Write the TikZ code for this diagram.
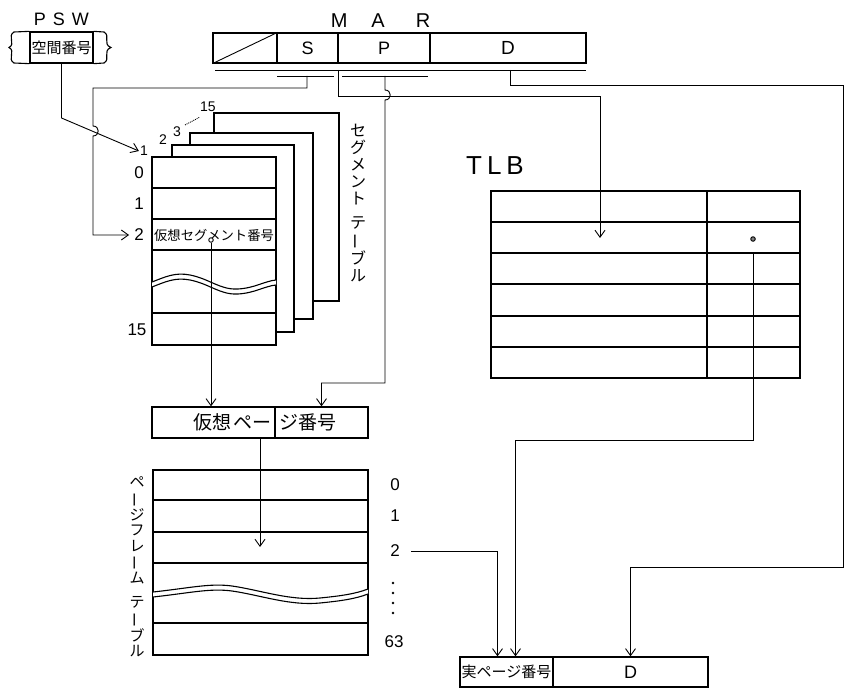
\documentclass[tikz,border=0pt]{standalone}
\usepackage{fontspec}
\setmainfont{Liberation Sans}
\newfontfamily\jpfont{Noto Sans CJK JP}
\usetikzlibrary{arrows.meta}
\newcommand{\tatebou}{\rotatebox[origin=c]{90}{ー}}

\begin{document}
\begin{tikzpicture}[x=1pt, y=-1pt,
  reg/.style={draw, line width=1.3pt, minimum height=30pt, inner sep=0pt},
  tbl/.style={line width=1.1pt},
  wire/.style={line width=0.9pt},
  arr/.style={wire, -{Straight Barb[length=7pt,width=10pt]}},
  jp/.style={font=\jpfont\fontsize{#1}{#1}\selectfont},
  lat/.style={font=\fontsize{#1}{#1}\selectfont},
  vjp/.style={font=\jpfont\fontsize{16}{17}\selectfont, align=center, inner sep=0pt}]
  \useasboundingbox (0,0) rectangle (849,690);

  % ---------- PSW ----------
  \node[lat=18] (pswlbl) at (61.5,19) {P\hspace{7pt}S\hspace{7pt}W};
  \node[reg, minimum width=63pt, minimum height=31pt, jp=15] (psw) at (61.5,47.5) {空間番号};
  \draw[tbl] (psw.north west) -- (14,32) .. controls (7,36) and (16,44) .. (9,47.5)
    .. controls (16,51) and (7,59) .. (14,63) -- (psw.south west);
  \draw[tbl] (psw.north east) -- (104,32) .. controls (111,36) and (102,44) .. (111,47.5)
    .. controls (102,51) and (111,59) .. (104,63) -- (psw.south east);

  % ---------- MAR ----------
  \node[lat=20] (marlbl) at (380.5,21) {M\hspace{24pt}A\hspace{31pt}R};
  \node[reg, minimum width=64pt] (marx) at (245,48) {};
  \node[reg, minimum width=61pt, lat=18] (mars) at (307.5,48) {S};
  \node[reg, minimum width=92pt, lat=18] (marp) at (384,48) {P};
  \node[reg, minimum width=156pt, lat=19] (mard) at (508,48) {D};
  \draw[wire] (marx.south west) -- (marx.north east);
  % output lines under the register
  \draw[wire] (215,70) -- (586,70);
  \draw[wire] (277,76) -- (334,76);
  \draw[wire] (342,76) -- (428,76);
  \coordinate (stap) at (307,76);
  \coordinate (ptap) at (385,76);
  \coordinate (sptap) at (338,70);
  \coordinate (dtap) at (510,70);

  % ---------- segment tables ----------
  \foreach \l/\t/\r/\b in {214/113/339/301, 190/133/313/319, 172/145/294/332}
    \draw[tbl, fill=white] (\l,\t) rectangle (\r,\b);
  \draw[tbl, fill=white] (152,157) rectangle (276,345);
  \foreach \y in {188,219,250,313}
    \draw[tbl] (152,\y) -- (276,\y);
  \fill[white] (152,282) .. controls (165,277) and (175,272) .. (190,275)
    .. controls (210,279) and (220,290) .. (238,289) .. controls (255,288) and (265,281) .. (276,280)
    -- (276,285) .. controls (265,286) and (255,293) .. (238,294)
    .. controls (220,295) and (210,284) .. (190,280) .. controls (175,277) and (165,282) .. (152,287) -- cycle;
  \foreach \d in {0,5}
    \draw[tbl] (152,282+\d) .. controls (165,277+\d) and (175,272+\d) .. (190,275+\d)
      .. controls (210,279+\d) and (220,290+\d) .. (238,289+\d)
      .. controls (255,288+\d) and (265,281+\d) .. (276,280+\d);
  \node[jp=13.3] (segname) at (214,235) {仮想セグメント番号};
  \node[wire, draw, fill=white, circle, inner sep=1.6pt] (segdot) at (211,240) {};

  \node[lat=14, inner sep=1pt] (tbl1) at (144,151) {1};
  \node[lat=14] (tbl2) at (163,140) {2};
  \node[lat=14] (tbl3) at (177,132) {3};
  \node[lat=14] (tbl15) at (208,107) {15};
  \draw[wire, densely dotted] (185,125) -- (200,117);
  \node[lat=17] (row0) at (139,172.5) {0};
  \node[lat=17] (row1) at (139,204) {1};
  \node[lat=17, inner sep=5pt] (row2) at (139,235) {2};
  \node[lat=17] (row15) at (137,330) {15};
  \node[vjp] (segtbl) at (358,203)
    {セ\\グ\\メ\\ン\\ト\\[7pt]テ\\\tatebou\\ブ\\ル};

  % ---------- TLB ----------
  \node[lat=26] (tlblbl) at (495,166) {T\hspace{5pt}L\hspace{5pt}B};
  \draw[tbl] (491,191) rectangle (800,378);
  \foreach \y in {222,253,284,316,347}
    \draw[tbl] (491,\y) -- (800,\y);
  \draw[tbl] (707,191) -- (707,378);
  \coordinate (tlbin) at (600,238);
  \node[circle, wire, draw, fill=gray, inner sep=1.6pt] (tlbdot) at (753,239) {};

  % ---------- virtual page number ----------
  \node[reg, minimum width=123pt, minimum height=31pt, text width=117pt, align=right, jp=19]
    (vpnl) at (213.5,422.5) {仮想\hspace{3pt}ペー};
  \node[reg, minimum width=93pt, minimum height=31pt, text width=85pt, align=left, jp=19]
    (vpnr) at (321.5,422.5) {ジ番号};

  % ---------- page frame table ----------
  \draw[tbl] (153,470) rectangle (368,655);
  \foreach \y in {500,532,563,623}
    \draw[tbl] (153,\y) -- (368,\y);
  \fill[white] (153,592) .. controls (190,588) and (210,583) .. (232,586)
    .. controls (260,590) and (290,601) .. (320,598) .. controls (340,596) and (355,594) .. (368,589)
    -- (368,594) .. controls (355,599) and (340,601) .. (320,603)
    .. controls (290,606) and (260,595) .. (232,591) .. controls (210,588) and (190,593) .. (153,597) -- cycle;
  \foreach \d in {0,5}
    \draw[tbl] (153,592+\d) .. controls (190,588+\d) and (210,583+\d) .. (232,586+\d)
      .. controls (260,590+\d) and (290,601+\d) .. (320,598+\d)
      .. controls (340,596+\d) and (355,594+\d) .. (368,589+\d);
  \coordinate (pfin) at (260,547);
  \node[lat=17] (pf0) at (395,485) {0};
  \node[lat=17] (pf1) at (395,516) {1};
  \node[lat=17] (pf2) at (395,551) {2};
  \foreach \y in {583,593,603,613}
    \fill (393,\y) circle (1.3pt);
  \node[lat=17] (pf63) at (394,642) {63};
  \node[vjp, font=\jpfont\fontsize{15}{15.5}\selectfont] (pftbl) at (137,567)
    {ペ\\\tatebou\\ジ\\フ\\レ\\\tatebou\\ム\\[9pt]テ\\\tatebou\\ブ\\ル};

  % ---------- real address ----------
  \node[reg, minimum width=93pt, jp=15] (rpn) at (506.5,672) {実ページ番号};
  \node[reg, minimum width=155pt, lat=18] (rd) at (630.5,672) {D};

  % ---------- connections ----------
  \draw[arr] (psw.south) -- (61.5,118) -- (tbl1.west);
  \draw[arr] (stap) -- (307,88) -- (93,88) -- (93,126)
    .. controls (100,126) and (100,136) .. (93,136) |- (row2.west);
  \draw[arr] (ptap) -- (385,90) .. controls (392,90) and (392,100) .. (385,100)
    -- (385,383) -| (vpnr.north);
  \draw[arr] (sptap) -- (338,96) -| (tlbin);
  \draw[arr] (dtap) -- (510,85) -- (843,85) -- (843,567) -| (rd.north);
  \draw[arr] (tlbdot) ++(0,14) -- (753,440) -| ([xshift=9pt]rpn.north);
  \draw[arr, shorten <=8pt] (pf2.east) -| ([xshift=-9pt]rpn.north);
  \draw[arr] (segdot) -- (segdot |- vpnl.north);
  \draw[arr] (vpnl.south -| pfin) -- (pfin);
\end{tikzpicture}
\end{document}
